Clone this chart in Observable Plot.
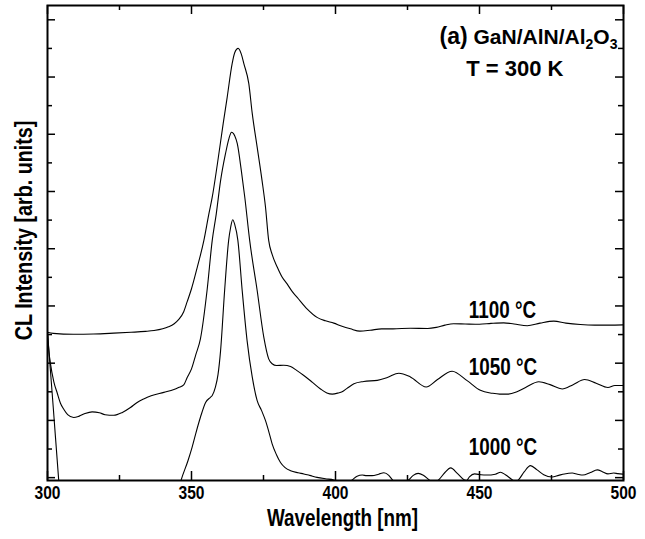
<!DOCTYPE html>
<html><head><meta charset="utf-8">
<script src="https://cdn.jsdelivr.net/npm/d3@7"></script>
<script src="https://cdn.jsdelivr.net/npm/@observablehq/plot@0.6"></script>
<style>body{margin:0;background:#fff}</style>
</head><body><div id="chart"></div>
<script>
// ---- data ----
const wl1100 = [300,302,309,316,323,329,334,337,340,342,344,345.5,347.3,348.5,350,352,354.3,356,357.2,359,361,362.4,364.1,365,366.2,367.3,368.2,369.9,371.1,372.8,374.5,375.7,376.8,378,379.8,381.5,383.2,385,386.7,390.2,393.6,396.5,399.4,402,405.2,408.5,412,416,420,426,432,435,438,441,445,450,454,458.4,462,466.6,471,475.8,480,485,490,495,500];
const int1100 = [5.08,5.04,5.01,5.02,5.05,5.08,5.11,5.14,5.2,5.27,5.38,5.52,5.8,6.15,6.6,7.35,8.29,9.2,9.8,10.97,12.37,13.3,14.46,14.85,15.0,14.8,14.46,13.77,12.72,11.55,10.38,9.45,8.29,7.8,7.35,7.0,6.77,6.5,6.3,5.89,5.6,5.48,5.4,5.3,5.2,5.12,5.15,5.2,5.2,5.22,5.21,5.25,5.33,5.38,5.37,5.36,5.39,5.41,5.37,5.31,5.4,5.47,5.4,5.35,5.33,5.33,5.34];

const wl1050 = [300,300.5,301,302.2,303.4,304.5,305.7,307,309.1,311,313,315.5,318,320,323,326,328.8,331,333.4,336,340.4,343.9,345.5,347.3,348.5,350,351.5,353.1,355.4,357.2,358.6,360.1,361.8,363,363.9,365,365.9,367.3,368.5,370.2,372.8,375.1,376.8,378,379.5,382,384.4,386.5,389,392,394.8,397,398.9,401,402.3,404,406.4,409.8,414.5,418,422,426,431.5,435.3,440.5,445.7,450.3,454.4,457,460,463,466,470.6,474.5,478.7,482.5,486.5,490.5,494.6,497,500];
const int1050 = [5.08,4.4,4.0,3.35,2.95,2.6,2.38,2.2,2.1,2.15,2.24,2.3,2.27,2.2,2.18,2.28,2.45,2.62,2.75,2.86,2.98,3.08,3.15,3.24,3.5,3.8,4.3,4.85,6.54,8.29,9.22,10.38,11.32,11.85,12.07,11.95,11.67,10.73,9.8,8.29,6.54,4.91,4.15,3.98,3.92,3.93,3.88,3.75,3.57,3.33,3.1,2.96,2.92,2.96,3.0,3.12,3.28,3.36,3.4,3.5,3.65,3.52,3.17,3.42,3.72,3.39,3.05,2.95,2.92,2.92,3.0,3.15,3.35,3.25,3.1,3.25,3.43,3.3,3.15,3.22,3.22];

const wl1000 = [300,302,303.9,305,343,344.5,346.5,348.8,350.2,351.5,353.1,354.9,356.5,357.2,358.3,359.2,360.1,361.5,362.9,363.6,364.3,365,366.1,367.6,369.3,371.1,372.8,374.3,375.7,377,378,379.5,380.9,382.5,384.4,387,389,391,393.6,396.5,399.4,402,404,405.8,407.5,409.3,410.8,412.7,415,416.8,418.5,419.7,422.5,425.5,427,428.7,430.5,432.4,434.2,435.9,438,440,442.3,444.6,445.5,446.5,448.3,450.5,452.5,455.5,457.3,459,461.3,462.5,463.6,465.5,467.7,470,472.3,475.2,477.5,479.5,482.2,484,485.9,488.5,490.9,492.8,494.6,496.6,498,500];
const int1000 = [5.08,2.45,-0.1,-1.5,-1.3,-0.77,-0.05,0.6,1.06,1.55,2.11,2.63,2.8,2.87,3.16,3.6,4.44,6.54,8.29,8.75,9.01,8.85,8.29,6.54,4.79,3.51,2.69,2.35,1.99,1.55,1.18,0.8,0.53,0.35,0.24,0.17,0.13,0.08,0.01,-0.04,-0.08,-0.2,-0.2,-0.08,0.05,0.09,0.07,0.07,0.12,0.17,0.08,-0.07,-0.35,-0.07,0.08,0.15,0.08,-0.07,-0.2,-0.07,0.18,0.34,0.15,-0.07,-0.1,0.03,0.13,0.1,0.09,0.12,0.19,0.1,-0.07,-0.15,-0.07,0.2,0.42,0.27,0.1,0.02,0.08,0.13,0.16,0.12,0.09,0.18,0.27,0.2,0.13,0.16,0.14,0.12];

const seriesNames = ["1100 °C", "1050 °C", "1000 °C"];
const labelWavelength = [446.3, 446.3, 446.3];
const labelIntensity = [5.57, 3.59, 0.79];

const xMajorTicks = [300, 350, 400, 450, 500];
const xMinorTicks = [325, 375, 425, 475];
const yMajorTicks = [0, 2, 4, 6, 8, 10, 12, 14, 16];
const yMinorTicks = [1, 3, 5, 7, 9, 11, 13, 15];

const titleParts = ["(a)", " GaN/AlN/Al", "2", "O", "3"];
const subtitleText = "T = 300 K";
const xLabel = "Wavelength [nm]";
const yLabel = "CL Intensity [arb. units]";

// ---- build table ----
const rows = [];
[[wl1100, int1100, seriesNames[0]], [wl1050, int1050, seriesNames[1]], [wl1000, int1000, seriesNames[2]]]
  .forEach(([w, v, s]) => w.forEach((x, i) => rows.push({series: s, wavelength: x, intensity: v[i]})));
const annotations = seriesNames.map((s, i) => ({label: s, x: labelWavelength[i], y: labelIntensity[i]}));

const W = 645, H = 539, mL = 47, mR = 22, mT = 5, mB = 59;
const fw = W - mL - mR, fh = H - mT - mB;
const FONT = '"Liberation Sans", Arial, Helvetica, sans-serif';

const plot = Plot.plot({
  width: W, height: H,
  marginLeft: mL, marginRight: mR, marginTop: mT, marginBottom: mB,
  x: {domain: [300, 500]},
  y: {domain: [-0.1, 16.5], axis: null},
  style: {fontFamily: FONT, fontWeight: "bold", fontSize: "19px", color: "#000", background: "#fff"},
  marks: [
    Plot.line(rows, {x: "wavelength", y: "intensity", z: "series", stroke: "#000", strokeWidth: 1.1, curve: "monotone-x", clip: true}),
    // inward ticks: bottom, top, left, right
    Plot.tickX(xMajorTicks, {x: d => d, insetTop: fh - 9, stroke: "#000", strokeWidth: 1.5}),
    Plot.tickX(xMinorTicks, {x: d => d, insetTop: fh - 5, stroke: "#000", strokeWidth: 1.5}),
    Plot.tickX(xMajorTicks, {x: d => d, insetBottom: fh - 9, stroke: "#000", strokeWidth: 1.5}),
    Plot.tickX(xMinorTicks, {x: d => d, insetBottom: fh - 5, stroke: "#000", strokeWidth: 1.5}),
    Plot.tickY(yMajorTicks, {y: d => d, insetRight: fw - 8, stroke: "#000", strokeWidth: 1.5}),
    Plot.tickY(yMinorTicks, {y: d => d, insetRight: fw - 5, stroke: "#000", strokeWidth: 1.5}),
    Plot.tickY(yMajorTicks, {y: d => d, insetLeft: fw - 8, stroke: "#000", strokeWidth: 1.5}),
    Plot.tickY(yMinorTicks, {y: d => d, insetLeft: fw - 5, stroke: "#000", strokeWidth: 1.5}),
    Plot.frame({stroke: "#000", strokeWidth: 2}),
    Plot.axisX({ticks: xMajorTicks, tickSize: 0, tickPadding: 5, label: null, tickFormat: d => String(d), fontSize: 19}),
    Plot.text([xLabel], {text: d => d, frameAnchor: "bottom", textAnchor: "middle", lineAnchor: "bottom", dx: 7, dy: 45, fontSize: 23}),
    Plot.text([yLabel], {text: d => d, frameAnchor: "left", textAnchor: "middle", lineAnchor: "middle", rotate: -90, dx: -23.5, dy: -12.5, fontSize: 24}),
    Plot.text(annotations, {x: "x", y: "y", text: "label", textAnchor: "start", lineAnchor: "bottom", fontSize: 23}),
    Plot.text([titleParts.join("")], {text: d => d, frameAnchor: "top-right", textAnchor: "end", lineAnchor: "bottom", dx: -6, dy: 38, fontSize: 21}),
    Plot.text([subtitleText], {text: d => d, frameAnchor: "top-right", textAnchor: "end", lineAnchor: "bottom", dx: -60, dy: 70, fontSize: 22})
  ]
});

document.getElementById("chart").appendChild(plot);

// subscripts in the sample title
const titleFull = titleParts.join("");
const t = d3.select(plot).selectAll("text").filter(function () { return this.textContent === titleFull; });
t.text(null);
t.append("tspan").attr("font-size", 23).text(titleParts[0]);
t.append("tspan").text(titleParts[1]);
t.append("tspan").attr("font-size", 14).attr("dy", 5).text(titleParts[2]);
t.append("tspan").attr("dy", -5).text(titleParts[3]);
t.append("tspan").attr("font-size", 14).attr("dy", 5).text(titleParts[4]);

// narrow (condensed) lettering like the reference typeface (axis titles, ticks, series labels)
d3.select(plot).selectAll("text").each(function () {
  if (this.textContent === titleFull || this.textContent === subtitleText) return;
  const len = this.getComputedTextLength();
  if (len > 0) {
    this.setAttribute("textLength", (len * 0.82).toFixed(1));
    this.setAttribute("lengthAdjust", "spacingAndGlyphs");
  }
});
</script>
</body></html>
